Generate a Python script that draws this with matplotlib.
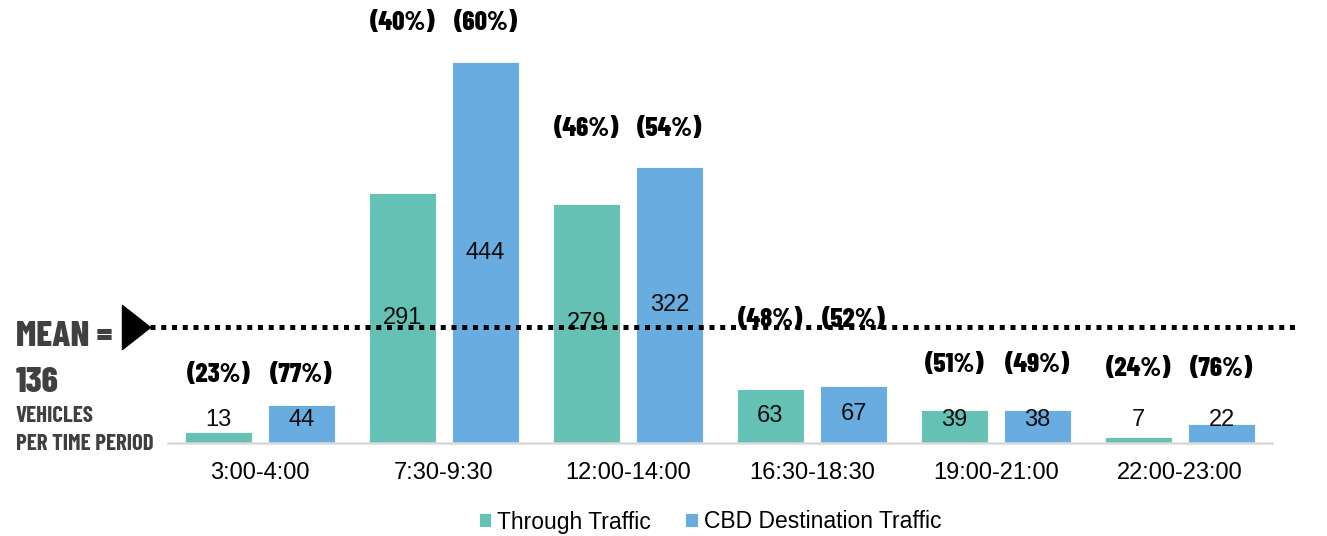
import matplotlib
matplotlib.use("Agg")
import matplotlib.pyplot as plt
from matplotlib import font_manager as fm
from matplotlib.path import Path
from matplotlib.transforms import blended_transform_factory

# Vehicles per time period, split by traffic type
periods = ["3:00-4:00", "7:30-9:30", "12:00-14:00", "16:30-18:30", "19:00-21:00", "22:00-23:00"]
through_traffic = [13, 291, 279, 63, 39, 7]
cbd_traffic = [44, 444, 322, 67, 38, 22]
series_names = ["Through Traffic", "CBD Destination Traffic"]

# Height (in vehicles) at which each group's share labels sit
share_label_y = [79, 490, 366, 143, 91, 86]

TEAL = "#66C1B5"
BLUE = "#69ACDF"

plt.rcParams["font.family"] = ["Liberation Sans", "DejaVu Sans"]
cond_families = ["Barlow Condensed", "Roboto Condensed", "Liberation Sans Narrow", "DejaVu Sans"]
cond = fm.FontProperties(family=cond_families, weight=800)
cond_label = fm.FontProperties(family=cond_families, weight="bold")

W, H = 1327, 536
fig = plt.figure(figsize=(W / 100, H / 100), dpi=100)
ax = fig.add_axes([168 / W, 93 / H, 1104 / W, 429 / H])

x = list(range(len(periods)))
bw, off = 0.36, 0.226
xt = [i - off for i in x]
xc = [i + off for i in x]
b1 = ax.bar(xt, through_traffic, bw, color=TEAL, edgecolor="white", linewidth=0.6,
            label=series_names[0], zorder=2)
b2 = ax.bar(xc, cbd_traffic, bw, color=BLUE, edgecolor="white", linewidth=0.6,
            label=series_names[1], zorder=2)

ax.set_xlim(-0.5, 5.5)
ax.set_ylim(0, 500)
ax.set_xticks(x)
ax.set_xticklabels(periods, fontsize=17)
ax.tick_params(axis="x", length=0, pad=14)
ax.set_yticks([])
for s in ["left", "right", "top"]:
    ax.spines[s].set_visible(False)
ax.spines["bottom"].set_color("#D9D9D9")
ax.spines["bottom"].set_linewidth(1.8)

# Value labels inside the bars
for xs, vals in ((xt, through_traffic), (xc, cbd_traffic)):
    for xi, v in zip(xs, vals):
        ax.text(xi, max(v / 2, 27), f"{v}", ha="center", va="center",
                fontsize=17, color="#0D0D0D", zorder=3)

# Share of each traffic type within the period
for i in x:
    total = through_traffic[i] + cbd_traffic[i]
    for xi, v in ((xt[i], through_traffic[i]), (xc[i], cbd_traffic[i])):
        ax.text(xi, share_label_y[i], f"({round(100 * v / total)}%)", ha="center",
                va="center", fontproperties=cond, fontsize=19.5, color="black")

# Mean line with arrow head
values = through_traffic + cbd_traffic
mean = sum(values) / len(values)
blend = blended_transform_factory(fig.transFigure, ax.transData)
ax.plot([150 / W, 1298 / W], [mean, mean], transform=blend, color="black",
        lw=3.6, linestyle=(0, (1, 1.15)), dash_capstyle="butt", clip_on=False, zorder=4)
tri = Path([(-14, -22), (14, 0), (-14, 22), (-14, -22)],
           [Path.MOVETO, Path.LINETO, Path.LINETO, Path.CLOSEPOLY])
ax.plot([136 / W], [mean], marker=tri, markersize=31.7, color="black",
        transform=blend, clip_on=False, zorder=5)

gray = "#404040"
fig.text(16 / W, 1 - 346 / H, "MEAN =", fontproperties=cond, fontsize=26,
         color=gray, ha="left", va="baseline")
fig.text(16 / W, 1 - 392 / H, f"{round(mean)}", fontproperties=cond, fontsize=26,
         color=gray, ha="left", va="baseline")
fig.text(16 / W, 1 - 422 / H, "VEHICLES", fontproperties=cond_label, fontsize=16.5,
         color=gray, ha="left", va="baseline")
fig.text(16 / W, 1 - 450 / H, "PER TIME PERIOD", fontproperties=cond_label, fontsize=16.5,
         color=gray, ha="left", va="baseline")

fig.legend(handles=[b1, b2], loc="center", bbox_to_anchor=(710 / W, 1 - 522 / H),
           ncol=2, frameon=False, fontsize=16.5, handlelength=0.55, handleheight=0.55,
           handletextpad=0.25, columnspacing=1.5, borderpad=0)

fig.savefig("out.png", dpi=100)
